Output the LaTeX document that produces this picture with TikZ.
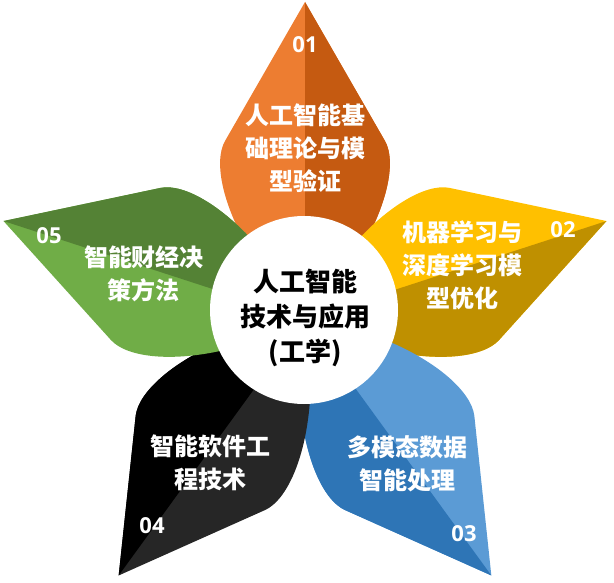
\documentclass[tikz,border=0pt]{standalone}
\usepackage{fontspec}
\newfontfamily\cjk{Noto Sans CJK SC}
\newfontfamily\numfont{Open Sans}
\definecolor{orL}{HTML}{ED7D31}
\definecolor{orD}{HTML}{C55A11}
\definecolor{yeL}{HTML}{FFC000}
\definecolor{yeD}{HTML}{BF9000}
\definecolor{blL}{HTML}{5B9BD5}
\definecolor{blD}{HTML}{2E75B6}
\definecolor{bkL}{HTML}{262626}
\definecolor{bkD}{HTML}{000000}
\definecolor{grL}{HTML}{70AD47}
\definecolor{grD}{HTML}{548235}
\newcommand{\mypetal}[3]{%
  \begin{scope}[shift={(305,-319)},rotate=#1]
    \fill[#2] (0,317) -- (-80,178) .. controls (-92,157) and (-82,110) .. (-50,60)
      -- (0,0) -- (50,60) .. controls (82,110) and (92,157) .. (80,178) -- cycle;
    \fill[#3] (0,317) -- (0,0) -- (50,60) .. controls (82,110) and (92,157) .. (80,178) -- cycle;
  \end{scope}}
\tikzset{
  ptext/.style={text=white, align=center, font=\cjk\bfseries\fontsize{24}{33}\selectfont, inner sep=0pt},
  pnum/.style={text=white, font=\numfont\bfseries\fontsize{22}{26}\selectfont, inner sep=0pt},
  ctext/.style={text=black, align=center, font=\cjk\bfseries\fontsize{26}{35}\selectfont, inner sep=0pt},
  hub/.style={circle, fill=white, minimum size=188pt, inner sep=0pt}
}
\begin{document}
\begin{tikzpicture}[x=1pt,y=1pt]
\useasboundingbox (0,0) rectangle (614,-583);
\mypetal{0}{orL}{orD}
\mypetal{-72}{yeL}{yeD}
\mypetal{-144}{blL}{blD}
\mypetal{144}{bkL}{bkD}
\mypetal{72}{grL}{grD}
\node[hub] (hub) at (304,-310) {};
\node[ctext] (c) at (305,-318) {人工智能\\技术与应用\\(工学)};
\node[pnum] (n1) at (305,-45) {01};
\node[ptext] (p1) at (305,-148) {人工智能基\\础理论与模\\型验证};
\node[pnum] (n2) at (563,-230) {02};
\node[ptext] (p2) at (462,-265) {机器学习与\\深度学习模\\型优化};
\node[pnum] (n3) at (464,-534) {03};
\node[ptext] (p3) at (407,-464) {多模态数据\\智能处理};
\node[pnum] (n4) at (152,-526) {04};
\node[ptext] (p4) at (210,-463) {智能软件工\\程技术};
\node[pnum] (n5) at (49,-236) {05};
\node[ptext] (p5) at (144,-274) {智能财经决\\策方法};
\end{tikzpicture}
\end{document}
